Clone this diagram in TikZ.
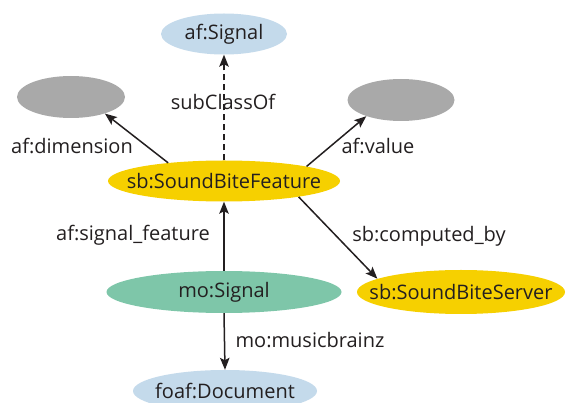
\documentclass[tikz,border=0pt]{standalone}
\usepackage{fontspec}
\setmainfont{Open Sans}
\usetikzlibrary{shapes.geometric,arrows.meta}
\definecolor{inkc}{HTML}{231F20}
\definecolor{blueC}{HTML}{C4DAEB}
\definecolor{grayC}{HTML}{A9A9A9}
\definecolor{yellowC}{HTML}{F6D000}
\definecolor{greenC}{HTML}{7EC6A9}
\tikzset{
  cls/.style={ellipse, inner sep=0pt, text=inkc,
    font=\fontsize{20}{22}\selectfont},
  rel/.style={draw=inkc, line width=1.5pt,
    -{Stealth[length=12pt,width=9.5pt,inset=2.5pt]}},
  lbl/.style={text=inkc, font=\fontsize{20}{22}\selectfont, inner sep=0pt}
}
% zero-width box so the ellipse keeps its minimum size
\newcommand{\cname}[1]{\makebox[0pt][c]{#1}}
\begin{document}
\begin{tikzpicture}[x=1pt,y=-1pt]
\useasboundingbox (0,0) rectangle (566,403);
\begin{scope}
\clip (0,0) rectangle (566,403);
% class nodes
\node[cls, fill=blueC, minimum width=126pt, minimum height=41pt] (afsig) at (224,34) {\cname{af:Signal}};
\node[cls, fill=grayC, minimum width=108pt, minimum height=42pt] (dim) at (71,97) {};
\node[cls, fill=grayC, minimum width=107pt, minimum height=42pt] (val) at (401,100) {};
\node[cls, fill=yellowC, minimum width=232pt, minimum height=41pt] (sbf) at (224,181) {\cname{sb:SoundBiteFeature}};
\node[cls, fill=greenC, minimum width=235pt, minimum height=42pt] (mosig) at (224,292) {\cname{mo:Signal}};
\node[cls, fill=yellowC, minimum width=208pt, minimum height=44pt] (srv) at (461,292) {\cname{sb:SoundBiteServer}};
\node[cls, fill=blueC, minimum width=184pt, minimum height=42pt] (doc) at (225,391) {\cname{foaf:Document}};
\end{scope}
% relations
\draw[rel, dashed, dash pattern=on 6pt off 4pt] (sbf.north) -- (afsig.south);
\draw[rel] (sbf.162.5) -- (dim.334);
\draw[rel] (sbf.10) -- (val.205);
\draw[rel] (sbf.348.7) -- (srv.171);
\draw[rel] (mosig.north) -- (sbf.south);
\draw[rel] (mosig.south) -- (doc.north);
% relation labels
\node[lbl] (l1) at (223,102) {subClassOf};
\node[lbl] (l2) at (72,146) {af:dimension};
\node[lbl] (l3) at (378,146) {af:value};
\node[lbl] (l4) at (133,235) {af:signal\_feature};
\node[lbl] (l5) at (429,236) {sb:computed\_by};
\node[lbl] (l6) at (310,340) {mo:musicbrainz};
\end{tikzpicture}
\end{document}
